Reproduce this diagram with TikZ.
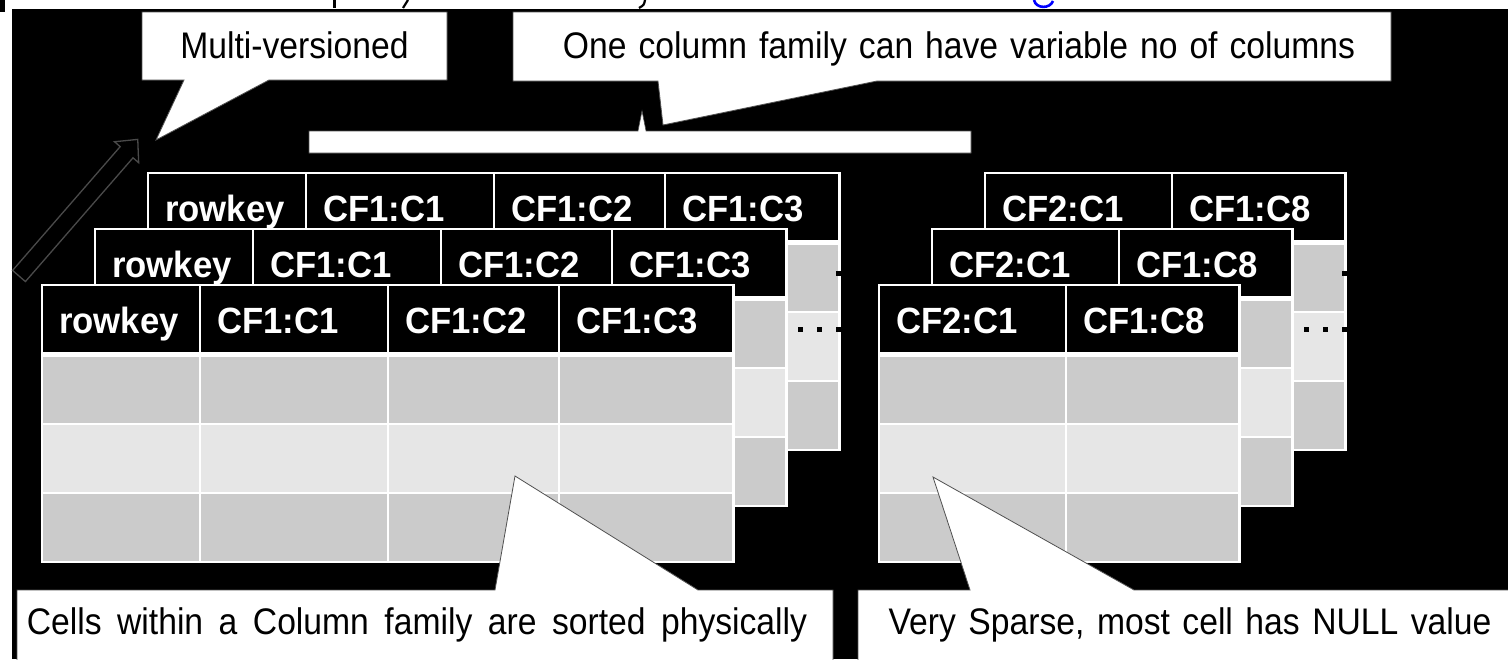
\documentclass[tikz,border=0pt]{standalone}
\usepackage{fontspec}
\setmainfont{Liberation Sans}
\newfontfamily\callfont{Liberation Sans}[FakeStretch=0.91]
\newfontfamily\hdrfamily{Liberation Sans}[FakeStretch=0.95]
\definecolor{cellA}{HTML}{CBCBCB}
\definecolor{cellB}{HTML}{E6E6E6}
\definecolor{callline}{HTML}{505050}
\definecolor{arrline}{HTML}{4A4A4A}
\definecolor{fragblue}{HTML}{0000FF}
\tikzset{
  hdr/.style={font=\hdrfamily\fontsize{36.5}{40}\selectfont\bfseries, text=white, inner sep=0pt, anchor=base west},
  calltext/.style={font=\callfont\fontsize{37}{42}\selectfont, text=black, inner sep=0pt, anchor=base},
  callshape/.style={fill=white, draw=callline, line width=0.8pt, line join=miter},
  dotsq/.style={fill=black},
  tabback/.style={fill=white},
}
% #1 name, #2 shift, #3 x0, #4 x1, #5 list xa/xb/label
\newcommand\hbtab[5]{%
  \begin{scope}[shift={#2}]
    \fill[tabback] (#3-1.5,283.8) rectangle (#4+1.5,562.5);
    \foreach \xa/\xb/\lab [count=\i] in {#5} {
      \fill[black] (\xa+1.2,286.2) rectangle (\xb-1.2,351.6);
      \node[hdr] (#1-h\i) at (\xa+17,333) {\lab};
      \fill[cellA] (\xa+1.2,356.6) rectangle (\xb-1.2,423.2);
      \fill[cellB] (\xa+1.2,425.4) rectangle (\xb-1.2,491.8);
      \fill[cellA] (\xa+1.2,494.0) rectangle (\xb-1.2,560.6);
    }
  \end{scope}}
\begin{document}
\begin{tikzpicture}[x=1pt,y=-1pt]
\useasboundingbox (0,0) rectangle (1508,659);
\clip (0,0) rectangle (1508,659);
\fill[white] (0,0) rectangle (1508,659);
\fill[black] (12,9) rectangle (1508,659);
\fill[black] (0,0) rectangle (5,12);
% cropped text fragments at the top edge
\draw[black, line width=3pt] (334,0) -- (334,8);
\draw[black, line width=2.2pt] (408,0) -- (403,8);
\draw[black, line width=2.2pt] (645,0) .. controls (644,5) .. (639,8);
\draw[fragblue, line width=2.6pt] (1034,0) .. controls (1036,9) and (1050,9) .. (1053,1);

% left group of tables (back to front)
\hbtab{tc}{(106,-112)}{42}{733}{42/200/rowkey,200/388/CF1:C1,388/559/CF1:C2,559/733/CF1:C3}
\hbtab{tb}{(53,-56)}{42}{733}{42/200/rowkey,200/388/CF1:C1,388/559/CF1:C2,559/733/CF1:C3}
\hbtab{ta}{(0,0)}{42}{733}{42/200/rowkey,200/388/CF1:C1,388/559/CF1:C2,559/733/CF1:C3}
% right group of tables
\hbtab{rc}{(106,-112)}{879}{1239}{879/1066/CF2:C1,1066/1239/CF1:C8}
\hbtab{rb}{(53,-56)}{879}{1239}{879/1066/CF2:C1,1066/1239/CF1:C8}
\hbtab{ra}{(0,0)}{879}{1239}{879/1066/CF2:C1,1066/1239/CF1:C8}

% ellipsis dots
\foreach \dx in {0,506} {
  \fill[dotsq] (797.5+\dx,326.5) rectangle (802.5+\dx,331.5);
  \fill[dotsq] (816.5+\dx,326.5) rectangle (821.5+\dx,331.5);
  \fill[dotsq] (835.5+\dx,326.5) rectangle (840.5+\dx,331.5);
  \fill[dotsq] (835.5+\dx,270.5) rectangle (840.5+\dx,275.5);
}

% versions arrow
\begin{scope}[shift={(19,276)}, rotate=49]
  \filldraw[fill=black, draw=arrline, line width=1.3pt, line join=miter]
    (0,-8.5) -- (164,-8.5) -- (164,-16) -- (181,0) -- (164,16) -- (164,8.5) -- (0,8.5) -- cycle;
\end{scope}

% brace over the column family
\filldraw[fill=white, draw=callline, line width=0.6pt]
  (309,131) -- (638,131) -- (642,111) -- (646,131) -- (971,131) -- (971,153) -- (309,153) -- cycle;

% callouts
\filldraw[callshape] (142,12) -- (447,12) -- (447,80) -- (269,80) -- (156,140) -- (184,80) -- (142,80) -- cycle;
\node[calltext] (multi) at (294.5,58) {Multi-versioned};

\filldraw[callshape] (513,12) -- (1391,12) -- (1391,81) -- (877,81) -- (663,125) -- (658,81) -- (513,81) -- cycle;
\node[calltext] (onecf) at (959,58) {\spaceskip=12pt One column family can have variable no of columns};

\filldraw[callshape] (17,590) -- (495,590) -- (515,476) -- (698,590) -- (833,590) -- (833,670) -- (17,670) -- cycle;
\node[calltext] (sorted) at (417,634) {\spaceskip=15.5pt Cells within a Column family are sorted physically};

\filldraw[callshape] (858,590) -- (970,590) -- (933,477) -- (1134,590) -- (1520,590) -- (1520,670) -- (858,670) -- cycle;
\node[calltext] (sparse) at (1190,634) {\spaceskip=12.5pt Very Sparse, most cell has NULL value};
\end{tikzpicture}
\end{document}
